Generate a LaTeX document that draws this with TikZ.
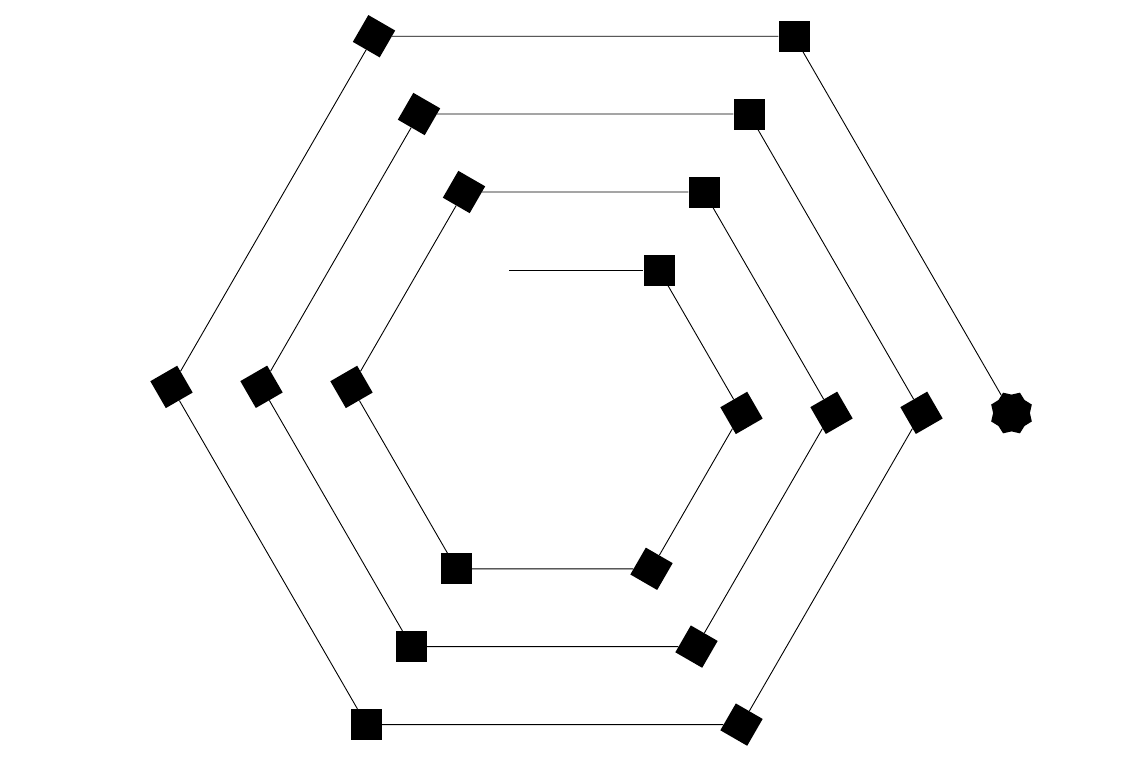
\documentclass[tikz,border=0pt]{standalone}
\usetikzlibrary{shapes.geometric}
\begin{document}
\begin{tikzpicture}[x=1pt,y=-1pt,
  sq/.style={rectangle,fill=black,draw=none,inner sep=0pt,minimum size=31pt},
  endmark/.style={star,star points=8,star point height=3.6pt,minimum size=44pt,inner sep=0pt,fill=black,draw=none,rotate=22.5},
  link/.style={draw=black,line width=0.9pt}]
\useasboundingbox (0,0) rectangle (1146,772);
\coordinate (v0) at (509,270);
\node[sq,rotate=0]    (v1)  at (659,270) {};
\node[sq,rotate=-60]  (v2)  at (741.5,412.9) {};
\node[sq,rotate=-120] (v3)  at (651.5,568.8) {};
\node[sq,rotate=180]  (v4)  at (456.5,568.8) {};
\node[sq,rotate=120]  (v5)  at (351.5,386.9) {};
\node[sq,rotate=60]   (v6)  at (464,192) {};
\node[sq,rotate=0]    (v7)  at (704,192) {};
\node[sq,rotate=-60]  (v8)  at (831.5,412.8) {};
\node[sq,rotate=-120] (v9)  at (696.5,646.6) {};
\node[sq,rotate=180]  (v10) at (411.5,646.6) {};
\node[sq,rotate=120]  (v11) at (261.5,386.8) {};
\node[sq,rotate=60]   (v12) at (419,114) {};
\node[sq,rotate=0]    (v13) at (749,114) {};
\node[sq,rotate=-60]  (v14) at (921.5,412.8) {};
\node[sq,rotate=-120] (v15) at (741.5,724.6) {};
\node[sq,rotate=180]  (v16) at (366.5,724.6) {};
\node[sq,rotate=120]  (v17) at (171.5,386.9) {};
\node[sq,rotate=60]   (v18) at (374,36.2) {};
\node[sq,rotate=0]    (v19) at (794,36.2) {};
\node[endmark]        (v20) at (1011.5,413) {};
\draw[link] (v0) -- (v1);
\foreach \a/\b in {1/2,2/3,3/4,4/5,5/6,6/7,7/8,8/9,9/10,10/11,11/12,12/13,13/14,14/15,15/16,16/17,17/18,18/19,19/20}
  \draw[link] (v\a) -- (v\b);
\end{tikzpicture}
\end{document}
